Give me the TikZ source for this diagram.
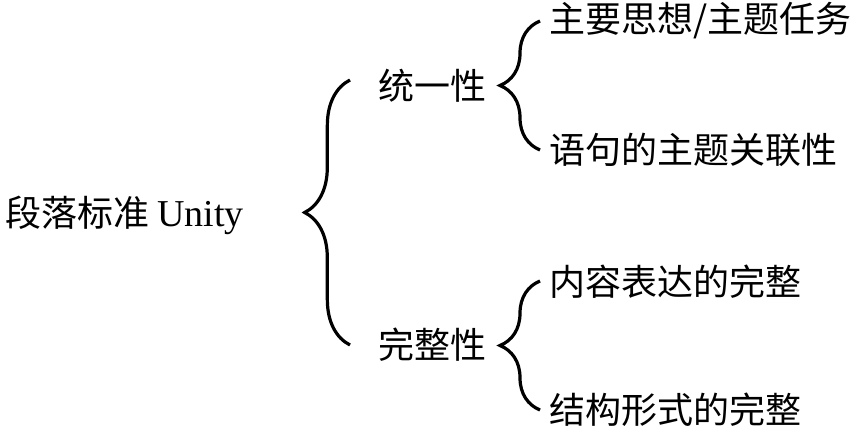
\documentclass[tikz,border=0pt]{standalone}
\usepackage{fontspec}
\setmainfont{Liberation Serif}
\newfontfamily\cjk{Noto Sans CJK SC}
\usetikzlibrary{decorations.pathreplacing}

\begin{document}
\begin{tikzpicture}[x=0.75pt, y=-0.75pt]
  \tikzstyle{t}=[anchor=west, inner sep=0pt, font=\fontsize{27}{32}\selectfont\cjk]
  \tikzstyle{brc}=[decorate, line width=2.4pt]
  \useasboundingbox (0,0) rectangle (856,428);

  \node[t] (root) at (5,215) {段落标准 {\fontsize{28.5}{32}\selectfont\rmfamily Unity}};
  \node[t] (uni) at (378,86) {统一性};
  \node[t] (whole) at (378,345) {完整性};
  \node[t] (u1) at (549,21) {主要思想/主题任务};
  \node[t] (u2) at (549,150) {语句的主题关联性};
  \node[t] (w1) at (549,282) {内容表达的完整};
  \node[t] (w2) at (549,410) {结构形式的完整};

  % brace ends
  \coordinate (b0a) at (350,345);
  \coordinate (b0b) at (350,80);
  \coordinate (b1a) at (540,150);
  \coordinate (b1b) at (540,21);
  \coordinate (b2a) at (540,410);
  \coordinate (b2b) at (540,281);

  \draw[brc, decoration={brace, amplitude=34pt}] (b0a) -- (b0b);
  \draw[brc, decoration={brace, amplitude=30pt}] (b1a) -- (b1b);
  \draw[brc, decoration={brace, amplitude=30pt}] (b2a) -- (b2b);
\end{tikzpicture}
\end{document}
